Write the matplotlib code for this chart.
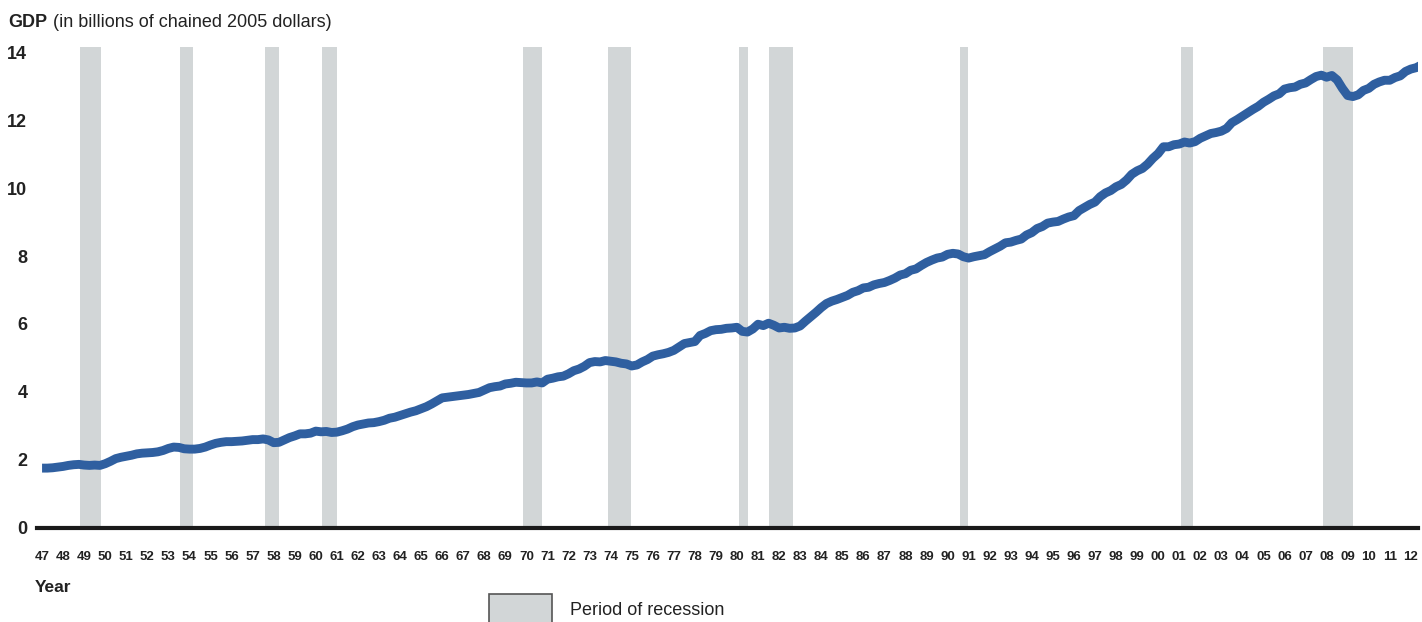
import matplotlib
matplotlib.use("Agg")
import matplotlib.pyplot as plt
from matplotlib.patches import Rectangle
import numpy as np

plt.rcParams["font.family"] = ["Liberation Sans", "DejaVu Sans"]

first_year = 1947
gdp_quarterly = [
    1.75, 1.75, 1.76, 1.78,    # 1947
    1.80, 1.83, 1.85, 1.86,    # 1948
    1.84, 1.83, 1.84, 1.83,    # 1949
    1.88, 1.95, 2.03, 2.07,    # 1950
    2.10, 2.13, 2.17, 2.19,    # 1951
    2.20, 2.21, 2.23, 2.27,    # 1952
    2.33, 2.37, 2.36, 2.32,    # 1953
    2.31, 2.31, 2.33, 2.37,    # 1954
    2.43, 2.48, 2.51, 2.53,    # 1955
    2.53, 2.54, 2.55, 2.57,    # 1956
    2.59, 2.59, 2.61, 2.58,    # 1957
    2.50, 2.51, 2.58, 2.65,    # 1958
    2.70, 2.76, 2.76, 2.78,    # 1959
    2.84, 2.82, 2.83, 2.80,    # 1960
    2.81, 2.85, 2.90, 2.97,    # 1961
    3.02, 3.05, 3.08, 3.09,    # 1962
    3.12, 3.16, 3.22, 3.25,    # 1963
    3.30, 3.35, 3.40, 3.44,    # 1964
    3.50, 3.56, 3.64, 3.73,    # 1965
    3.82, 3.84, 3.86, 3.88,    # 1966
    3.90, 3.92, 3.95, 3.98,    # 1967
    4.05, 4.12, 4.15, 4.17,    # 1968
    4.23, 4.25, 4.28, 4.27,    # 1969
    4.26, 4.26, 4.29, 4.26,    # 1970
    4.37, 4.40, 4.44, 4.46,    # 1971
    4.53, 4.62, 4.67, 4.75,    # 1972
    4.86, 4.89, 4.88, 4.92,    # 1973
    4.90, 4.88, 4.84, 4.82,    # 1974
    4.76, 4.79, 4.88, 4.95,    # 1975
    5.05, 5.09, 5.12, 5.16,    # 1976
    5.22, 5.32, 5.42, 5.45,    # 1977
    5.48, 5.66, 5.72, 5.80,    # 1978
    5.83, 5.84, 5.87, 5.88,    # 1979
    5.90, 5.78, 5.76, 5.85,    # 1980
    5.99, 5.95, 6.02, 5.96,    # 1981
    5.88, 5.90, 5.87, 5.88,    # 1982
    5.94, 6.08, 6.21, 6.34,    # 1983
    6.48, 6.60, 6.67, 6.72,    # 1984
    6.78, 6.84, 6.93, 6.98,    # 1985
    7.06, 7.08, 7.15, 7.19,    # 1986
    7.22, 7.28, 7.35, 7.44,    # 1987
    7.48, 7.58, 7.62, 7.72,    # 1988
    7.81, 7.88, 7.94, 7.97,    # 1989
    8.05, 8.08, 8.06, 7.98,    # 1990
    7.94, 7.98, 8.01, 8.04,    # 1991
    8.13, 8.21, 8.29, 8.39,    # 1992
    8.41, 8.46, 8.50, 8.62,    # 1993
    8.69, 8.81, 8.87, 8.97,    # 1994
    9.00, 9.02, 9.09, 9.15,    # 1995
    9.19, 9.34, 9.43, 9.52,    # 1996
    9.59, 9.75, 9.86, 9.93,    # 1997
    10.04, 10.11, 10.24, 10.41,  # 1998
    10.51, 10.58, 10.71, 10.88,  # 1999
    11.02, 11.22, 11.22, 11.28,  # 2000
    11.30, 11.36, 11.33, 11.37,  # 2001
    11.47, 11.54, 11.61, 11.64,  # 2002
    11.68, 11.76, 11.93, 12.02,  # 2003
    12.12, 12.22, 12.32, 12.41,  # 2004
    12.53, 12.62, 12.72, 12.78,  # 2005
    12.92, 12.96, 12.98, 13.06,  # 2006
    13.10, 13.20, 13.29, 13.33,  # 2007
    13.27, 13.32, 13.19, 12.94,  # 2008
    12.73, 12.70, 12.75, 12.88,  # 2009
    12.94, 13.06, 13.13, 13.18,  # 2010
    13.18, 13.26, 13.31, 13.44,  # 2011
    13.51, 13.55, 13.63,         # 2012
]

# recession periods (start, end) in decimal years
recession_start = [1948.80, 1953.55, 1957.58, 1960.29, 1969.83, 1973.86,
                   1980.08, 1981.50, 1990.57, 2001.10, 2007.84]
recession_end = [1949.80, 1954.17, 1958.25, 1961.00, 1970.73, 1974.95,
                 1980.51, 1982.64, 1990.95, 2001.67, 2009.27]

tick_years = list(range(1947, 2013))
tick_labels = [f"{y % 100:02d}" for y in tick_years]
y_ticks = [0, 2, 4, 6, 8, 10, 12, 14]

BLUE = "#2f5fa0"
BAND = "#d2d6d7"

fig = plt.figure(figsize=(14.22, 6.22), dpi=100)
fig.patch.set_facecolor("white")
ax = fig.add_axes([37 / 1422, 94.5 / 622, 1381 / 1422, 480.5 / 622])

for s, e in zip(recession_start, recession_end):
    ax.axvspan(s, e, color=BAND, lw=0, zorder=1)

t = first_year + np.arange(len(gdp_quarterly)) * 0.25
ax.plot(t, gdp_quarterly, color=BLUE, lw=6.4, solid_capstyle="butt",
        solid_joinstyle="round", zorder=3)

ax.set_xlim(1946.76, 2012.34)
ax.set_ylim(0, 14.16)

for side in ["left", "right", "top"]:
    ax.spines[side].set_visible(False)
ax.spines["bottom"].set_linewidth(3.0)
ax.spines["bottom"].set_color("#1a1a1a")
ax.spines["bottom"].set_zorder(2.5)

ax.set_xticks(tick_years)
ax.set_xticklabels(tick_labels, fontsize=9.5, fontweight="bold", color="#222")
ax.set_yticks(y_ticks)
ax.set_yticklabels([str(v) for v in y_ticks], fontsize=13, fontweight="bold",
                   color="#222")
ax.tick_params(axis="x", length=0, pad=17)
ax.tick_params(axis="y", length=0, pad=7)

# title
fig.text(8 / 1422, 1 - 27 / 622, "GDP", fontsize=13, fontweight="bold",
         va="baseline", ha="left", color="#222")
fig.text(53 / 1422, 1 - 27 / 622, "(in billions of chained 2005 dollars)",
         fontsize=13, va="baseline", ha="left", color="#222")

fig.text(35 / 1422, 1 - 592 / 622, "Year", fontsize=12.5, fontweight="bold",
         va="baseline", ha="left", color="#222")

# legend
fig.patches.append(Rectangle((489 / 1422, -0.02), 63 / 1422, (622 - 594) / 622 + 0.02,
                             transform=fig.transFigure, facecolor=BAND,
                             edgecolor="#555555", lw=1.2))
fig.text(570 / 1422, 1 - 615 / 622, "Period of recession", fontsize=13,
         va="baseline", ha="left", color="#222")

fig.savefig("out.png", dpi=100)
